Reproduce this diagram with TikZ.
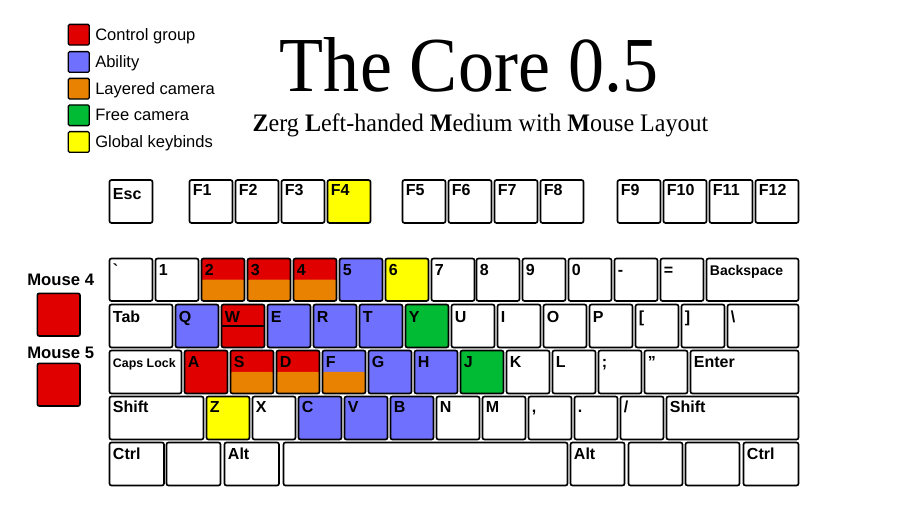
\documentclass[tikz,border=0pt]{standalone}
\usepackage{fontspec}
\setsansfont{Liberation Sans}
\setmainfont{Liberation Serif}
\newfontfamily\rawsans{Liberation Sans}[Ligatures=TeXOff]
\usepackage{graphicx}
\definecolor{cgred}{RGB}{224,0,0}
\definecolor{abblue}{RGB}{112,112,255}
\definecolor{lcorange}{RGB}{232,130,0}
\definecolor{fcgreen}{RGB}{0,187,51}
\definecolor{gkyellow}{RGB}{255,255,0}
\tikzset{
  keybox/.style={draw=black, line width=1.25pt, rounded corners=1.5pt, inner sep=0pt, outer sep=0pt, fill=white},
  keylabel/.style={anchor=base west, inner sep=0pt, outer sep=0pt, font=\sffamily\bfseries\fontsize{12}{14}\selectfont},
  lowhalf/.style={path picture={\fill[#1] (path picture bounding box.west) rectangle (path picture bounding box.south east);}},
  midline/.style={path picture={\draw[line width=1.25pt] (path picture bounding box.west) -- (path picture bounding box.east);}},
  legbox/.style={draw=black, line width=1pt, rounded corners=1pt, inner sep=0pt, outer sep=0pt, minimum width=15.75pt, minimum height=15.5pt},
  legtext/.style={anchor=base west, inner sep=0pt, font=\sffamily\fontsize{12.4}{14}\selectfont},
  mousetext/.style={anchor=base, inner sep=0pt, font=\sffamily\bfseries\fontsize{12.5}{14}\selectfont},
}
\def\kbl{17}
\newcommand\kb[7][]{%
  \node[keybox,#1,minimum width={(#5-#3)*0.75pt},minimum height={(#6-#4)*0.75pt}] (#2) at ({(#3+#5)/2},{(#4+#6)/2}) {};
  \node[keylabel] (#2-t) at ([xshift=2.6pt,yshift={-\kbl*0.75pt}]#2.north west) {#7};}
\begin{document}
\begin{tikzpicture}[x=0.75pt,y=-0.75pt]
\useasboundingbox (0,0) rectangle (897,509);
\fill[white] (0,0) rectangle (897,509);

% legend
\node[legbox,fill=cgred] (lg1) at (78.8,34.7) {};
\node[legtext] (lg1-t) at (95,40.4) {Control group};
\node[legbox,fill=abblue] (lg2) at (78.8,62) {};
\node[legtext] (lg2-t) at (95,67.7) {Ability};
\node[legbox,fill=lcorange] (lg3) at (78.8,88.7) {};
\node[legtext] (lg3-t) at (95,94.4) {Layered camera};
\node[legbox,fill=fcgreen] (lg4) at (78.8,115.3) {};
\node[legtext] (lg4-t) at (95,121) {Free camera};
\node[legbox,fill=gkyellow] (lg5) at (78.8,142) {};
\node[legtext] (lg5-t) at (95,147.7) {Global keybinds};

% title
\node[anchor=base, inner sep=0pt] (title) at (469,91.7) {\resizebox{283.5pt}{40.5pt}{\fontsize{50}{50}\selectfont The Core 0.5}};
\node[anchor=base, inner sep=0pt] (subtitle) at (480.5,131.7) {\resizebox{341.7pt}{13.3pt}{\fontsize{20}{20}\selectfont \textbf{Z}erg \textbf{L}eft-handed \textbf{M}edium with \textbf{M}ouse Layout}};

% function row
\def\kbl{19.3}
\kb{esc}{109.5}{180}{152.5}{223}{Esc}
\def\kbl{16}
\kb{f1}{189.5}{180}{232.5}{223}{F1}
\kb{f2}{235.5}{180}{278.5}{223}{F2}
\kb{f3}{281.5}{180}{324.5}{223}{F3}
\kb[fill=gkyellow]{f4}{327.5}{180}{370.5}{223}{F4}
\kb{f5}{402.5}{180}{445.5}{223}{F5}
\kb{f6}{448.5}{180}{491.5}{223}{F6}
\kb{f7}{494.5}{180}{537.5}{223}{F7}
\kb{f8}{540.5}{180}{583.5}{223}{F8}
\kb{f9}{617.5}{180}{660.5}{223}{F9}
\kb{f10}{663.5}{180}{706.5}{223}{F10}
\kb{f11}{709.5}{180}{752.5}{223}{F11}
\kb{f12}{755.5}{180}{798.5}{223}{F12}

% number row
\def\kbl{16.8}
\kb{grave}{109.5}{258.5}{152.5}{301}{{\rawsans\bfseries `}}
\kb{n1}{155.5}{258.5}{198.5}{301}{1}
\kb[fill=cgred,lowhalf=lcorange]{n2}{201.5}{258.5}{244.5}{301}{2}
\kb[fill=cgred,lowhalf=lcorange]{n3}{247.5}{258.5}{290.5}{301}{3}
\kb[fill=cgred,lowhalf=lcorange]{n4}{293.5}{258.5}{336.5}{301}{4}
\kb[fill=abblue]{n5}{339.5}{258.5}{382.5}{301}{5}
\kb[fill=gkyellow]{n6}{385.5}{258.5}{428.5}{301}{6}
\kb{n7}{431.5}{258.5}{474.5}{301}{7}
\kb{n8}{476.5}{258.5}{519.5}{301}{8}
\kb{n9}{522.5}{258.5}{565.5}{301}{9}
\kb{n0}{568.5}{258.5}{611.5}{301}{0}
\kb{minus}{614.5}{258.5}{657.5}{301}{-}
\kb{equal}{660.5}{258.5}{703.5}{301}{=}
\kb{bksp}{706.5}{258.5}{798.5}{301}{\fontsize{10.5}{12}\selectfont Backspace}

% tab row
\def\kbl{18.3}
\kb{tab}{109.5}{304.5}{172.5}{347.5}{Tab}
\kb[fill=abblue]{q}{175.5}{304.5}{218.5}{347.5}{Q}
\kb[fill=cgred,midline]{w}{221.5}{304.5}{264.5}{347.5}{W}
\kb[fill=abblue]{e}{267.5}{304.5}{310.5}{347.5}{E}
\kb[fill=abblue]{r}{313.5}{304.5}{356.5}{347.5}{R}
\kb[fill=abblue]{t}{359.5}{304.5}{402.5}{347.5}{T}
\kb[fill=fcgreen]{y}{405.5}{304.5}{448.5}{347.5}{Y}
\kb{u}{451.5}{304.5}{494.5}{347.5}{U}
\kb{i}{497.5}{304.5}{540.5}{347.5}{I}
\kb{o}{543.5}{304.5}{586.5}{347.5}{O}
\kb{p}{589.5}{304.5}{632.5}{347.5}{P}
\kb{lbrack}{635.5}{304.5}{678.5}{347.5}{[}
\kb{rbrack}{681.5}{304.5}{724.5}{347.5}{]}
\kb{bslash}{727.5}{304.5}{798.5}{347.5}{\textbackslash}

% caps row
\def\kbl{16.8}
\kb{caps}{109.5}{350.5}{181.5}{393.5}{\fontsize{9.3}{11}\selectfont Caps Lock}
\kb[fill=cgred]{a}{184.5}{350.5}{227.5}{393.5}{A}
\kb[fill=cgred,lowhalf=lcorange]{s}{230.5}{350.5}{273.5}{393.5}{S}
\kb[fill=cgred,lowhalf=lcorange]{d}{276.5}{350.5}{319.5}{393.5}{D}
\kb[fill=abblue,lowhalf=lcorange]{f}{322.5}{350.5}{365.5}{393.5}{F}
\kb[fill=abblue]{g}{368.5}{350.5}{411.5}{393.5}{G}
\kb[fill=abblue]{h}{414.5}{350.5}{457.5}{393.5}{H}
\kb[fill=fcgreen]{j}{460.5}{350.5}{503.5}{393.5}{J}
\kb{k}{506.5}{350.5}{549.5}{393.5}{K}
\kb{l}{552.5}{350.5}{595.5}{393.5}{L}
\kb{semi}{598.5}{350.5}{641.5}{393.5}{;}
\kb{quote}{644.5}{350.5}{687.5}{393.5}{”}
\kb{enter}{690.5}{350.5}{798.5}{393.5}{Enter}

% shift row
\def\kbl{16.3}
\kb{lshift}{109.5}{396.5}{203.5}{439.5}{Shift}
\kb[fill=gkyellow]{z}{206.5}{396.5}{249.5}{439.5}{Z}
\kb{x}{252.5}{396.5}{295.5}{439.5}{X}
\kb[fill=abblue]{c}{298.5}{396.5}{341.5}{439.5}{C}
\kb[fill=abblue]{v}{344.5}{396.5}{387.5}{439.5}{V}
\kb[fill=abblue]{b}{390.5}{396.5}{433.5}{439.5}{B}
\kb{n}{436.5}{396.5}{479.5}{439.5}{N}
\kb{m}{482.5}{396.5}{525.5}{439.5}{M}
\kb{comma}{528.5}{396.5}{571.5}{439.5}{,}
\kb{period}{574.5}{396.5}{617.5}{439.5}{.}
\kb{slash}{620.5}{396.5}{663.5}{439.5}{/}
\kb{rshift}{666.5}{396.5}{798.5}{439.5}{Shift}

% bottom row
\def\kbl{17.3}
\kb{lctrl}{109.5}{442.5}{164}{485.5}{Ctrl}
\kb{lwin}{166.5}{442.5}{220.5}{485.5}{}
\kb{lalt}{224.5}{442.5}{279}{485.5}{Alt}
\kb{space}{283.5}{442.5}{567.5}{485.5}{}
\kb{ralt}{570.5}{442.5}{624.5}{485.5}{Alt}
\kb{rwin}{628.5}{442.5}{682.5}{485.5}{}
\kb{menu}{685.5}{442.5}{739.5}{485.5}{}
\kb{rctrl}{743.5}{442.5}{798.5}{485.5}{Ctrl}

% mouse buttons
\node[mousetext] (m4-t) at (60.7,285.7) {Mouse 4};
\node[keybox,fill=cgred,minimum width=32pt,minimum height=32pt] (m4) at (58.7,314.7) {};
\node[mousetext] (m5-t) at (60.7,358.3) {Mouse 5};
\node[keybox,fill=cgred,minimum width=32pt,minimum height=32pt] (m5) at (58.7,384.7) {};
\end{tikzpicture}
\end{document}
